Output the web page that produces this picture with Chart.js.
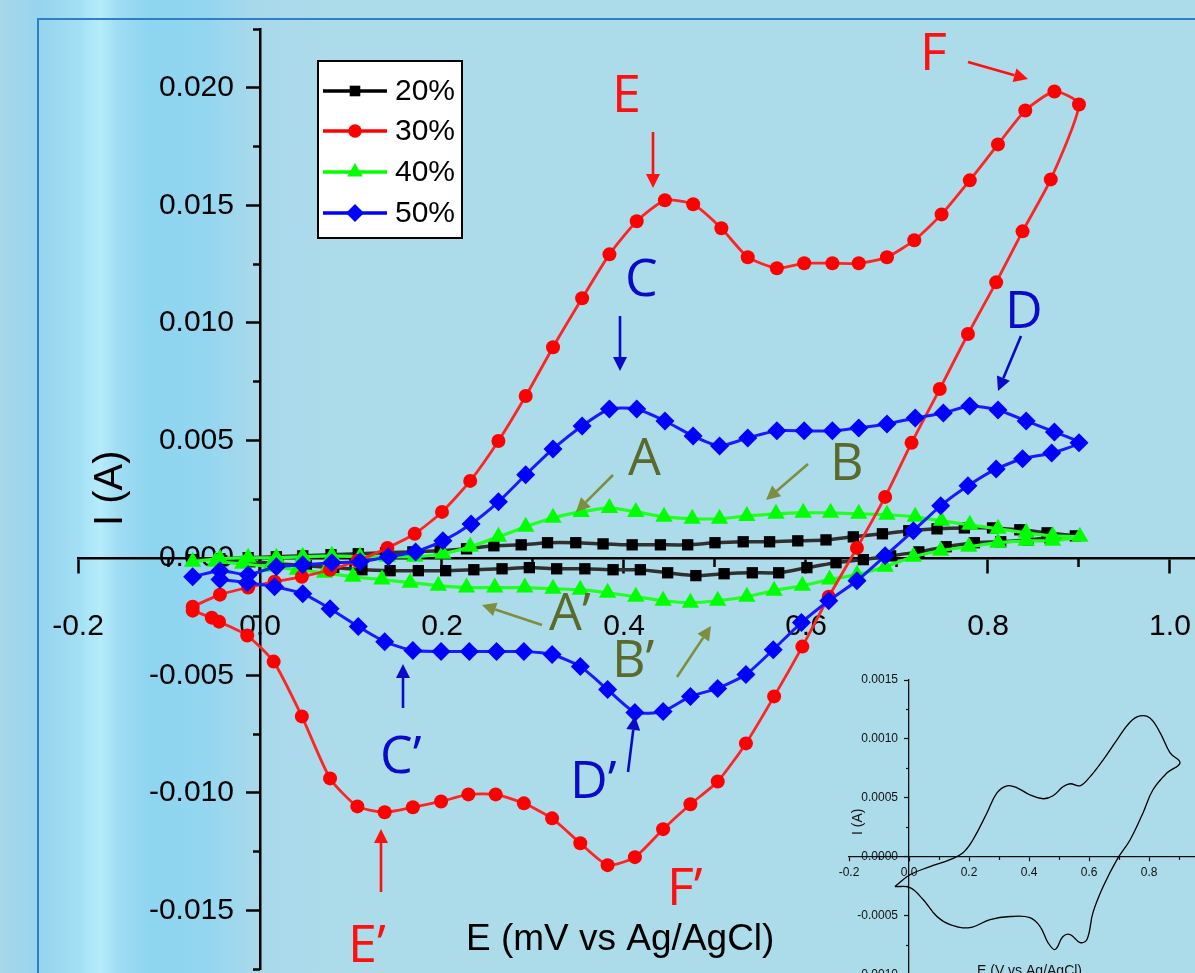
<!DOCTYPE html>
<html>
<head>
<meta charset="utf-8">
<title>Cyclic voltammograms</title>
<script src="https://cdn.jsdelivr.net/npm/chart.js@4.4.1/dist/chart.umd.min.js"></script>
<style>
  html, body { margin: 0; padding: 0; }
  body {
    width: 1195px; height: 973px; overflow: hidden; position: relative;
    background: linear-gradient(to right, #a7d7e9 0px, #97d4ee 40px, #a3e0f5 80px, #b6ecfb 100px,
      #a0ddf3 118px, #8ed5f1 150px, #93d6f0 205px, #a8d9eb 255px, #acdbea 330px, #acdbea 100%);
  }
  #frame { position: absolute; left: 37px; top: 18px; right: -10px; bottom: -10px;
    border-top: 2px solid #2e7fc6; border-left: 2px solid #2e7fc6; }
  canvas { position: absolute; }
  #main { left: 0; top: 0; }
  #inset { left: 830px; top: 660px; }
</style>
</head>
<body>
<div id="frame"></div>
<canvas id="main" width="1195" height="973"></canvas>
<canvas id="inset" width="365" height="351"></canvas>
<script>
// series names
var seriesNames = ['20%', '30%', '40%', '50%'];

// 20% : forward scan then reverse scan (E in V, I in A)
var E20 = [-0.074, -0.044, -0.013, 0.018, 0.047, 0.078, 0.108, 0.138, 0.168, 0.198, 0.227, 0.257, 0.287, 0.316, 0.347, 0.377, 0.409, 0.440, 0.470, 0.500, 0.531, 0.560, 0.591, 0.622, 0.652, 0.684, 0.713, 0.744, 0.774, 0.805, 0.835, 0.865, 0.896,
           0.868, 0.844, 0.814, 0.785, 0.754, 0.724, 0.693, 0.663, 0.633, 0.601, 0.570, 0.541, 0.510, 0.479, 0.448, 0.418, 0.388, 0.357, 0.326, 0.296, 0.266, 0.235, 0.204, 0.174, 0.143, 0.112, 0.081, 0.051, 0.020, -0.011, -0.042];
var I20 = [-0.00008, -0.00004, 0.00000, 0.00004, 0.00008, 0.00013, 0.00017, 0.00021, 0.00025, 0.00030, 0.00038, 0.00051, 0.00055, 0.00064, 0.00064, 0.00059, 0.00055, 0.00055, 0.00055, 0.00064, 0.00068, 0.00068, 0.00072, 0.00076, 0.00089, 0.00102, 0.00115, 0.00123, 0.00127, 0.00127, 0.00119, 0.00106, 0.00093,
           0.00085, 0.00076, 0.00068, 0.00064, 0.00047, 0.00025, 0.00008, -0.00008, -0.00021, -0.00042, -0.00064, -0.00064, -0.00068, -0.00076, -0.00064, -0.00051, -0.00051, -0.00047, -0.00047, -0.00042, -0.00047, -0.00051, -0.00055, -0.00055, -0.00055, -0.00051, -0.00042, -0.00034, -0.00025, -0.00017, -0.00013];

// 30%
var E30 = [-0.074, -0.044, -0.013, 0.016, 0.046, 0.077, 0.107, 0.140, 0.170, 0.200, 0.231, 0.262, 0.292, 0.322, 0.354, 0.384, 0.414, 0.445, 0.476, 0.507, 0.536, 0.568, 0.598, 0.629, 0.658, 0.689, 0.719, 0.749, 0.780, 0.811, 0.841, 0.873, 0.900,
           0.869, 0.838, 0.809, 0.778, 0.747, 0.716, 0.687, 0.656, 0.625, 0.596, 0.565, 0.534, 0.503, 0.473, 0.443, 0.412, 0.382, 0.352, 0.321, 0.290, 0.259, 0.229, 0.199, 0.168, 0.137, 0.107, 0.077, 0.046, 0.015, -0.014, -0.045, -0.053, -0.074];
var I30 = [-0.00208, -0.00157, -0.00127, -0.00102, -0.00081, -0.00051, -0.00013, 0.00042, 0.00102, 0.00195, 0.00327, 0.00497, 0.00688, 0.00896, 0.01104, 0.01291, 0.01432, 0.01521, 0.01504, 0.01402, 0.01279, 0.01232, 0.01253, 0.01253, 0.01253, 0.01279, 0.01351, 0.01461, 0.01606, 0.01759, 0.01903, 0.01984, 0.01929,
           0.01610, 0.01389, 0.01172, 0.00952, 0.00718, 0.00489, 0.00259, 0.00042, -0.00166, -0.00378, -0.00590, -0.00790, -0.00952, -0.01049, -0.01155, -0.01274, -0.01308, -0.01215, -0.01109, -0.01045, -0.01007, -0.01007, -0.01037, -0.01062, -0.01083, -0.01058, -0.00939, -0.00675, -0.00442, -0.00331, -0.00272, -0.00255, -0.00225];

// 40%
var E40 = [-0.074, -0.044, -0.013, 0.018, 0.047, 0.079, 0.110, 0.140, 0.170, 0.201, 0.231, 0.262, 0.292, 0.322, 0.353, 0.384, 0.413, 0.444, 0.475, 0.505, 0.535, 0.567, 0.597, 0.627, 0.658, 0.689, 0.720, 0.749, 0.780, 0.811, 0.842, 0.871, 0.901,
           0.871, 0.842, 0.811, 0.779, 0.748, 0.718, 0.687, 0.656, 0.626, 0.596, 0.565, 0.535, 0.503, 0.473, 0.443, 0.413, 0.382, 0.352, 0.322, 0.291, 0.258, 0.227, 0.196, 0.165, 0.134, 0.102, 0.071, 0.041, 0.011, -0.019, -0.049];
var I40 = [-0.00017, -0.00004, 0.00000, 0.00000, 0.00004, 0.00008, 0.00004, 0.00004, 0.00004, 0.00017, 0.00047, 0.00089, 0.00132, 0.00170, 0.00195, 0.00212, 0.00195, 0.00174, 0.00166, 0.00166, 0.00178, 0.00187, 0.00191, 0.00191, 0.00187, 0.00183, 0.00174, 0.00157, 0.00140, 0.00123, 0.00106, 0.00093, 0.00089,
           0.00072, 0.00072, 0.00064, 0.00047, 0.00030, 0.00004, -0.00038, -0.00072, -0.00093, -0.00119, -0.00140, -0.00166, -0.00183, -0.00191, -0.00183, -0.00166, -0.00149, -0.00136, -0.00132, -0.00127, -0.00127, -0.00127, -0.00119, -0.00106, -0.00093, -0.00081, -0.00064, -0.00051, -0.00038, -0.00026, -0.00017];

// 50%
var E50 = [-0.074, -0.044, -0.013, 0.018, 0.047, 0.079, 0.110, 0.141, 0.171, 0.201, 0.232, 0.262, 0.292, 0.322, 0.354, 0.384, 0.414, 0.445, 0.476, 0.505, 0.536, 0.568, 0.598, 0.629, 0.658, 0.689, 0.720, 0.751, 0.780, 0.811, 0.842, 0.873, 0.900,
           0.870, 0.838, 0.809, 0.778, 0.748, 0.718, 0.687, 0.656, 0.625, 0.595, 0.564, 0.534, 0.503, 0.473, 0.443, 0.412, 0.382, 0.352, 0.321, 0.290, 0.260, 0.230, 0.199, 0.168, 0.137, 0.108, 0.077, 0.047, 0.016, -0.014, -0.044];
var I50 = [-0.00081, -0.00055, -0.00072, -0.00038, -0.00030, -0.00021, -0.00017, 0.00004, 0.00025, 0.00072, 0.00144, 0.00238, 0.00353, 0.00463, 0.00561, 0.00633, 0.00633, 0.00582, 0.00518, 0.00476, 0.00510, 0.00540, 0.00540, 0.00540, 0.00552, 0.00569, 0.00595, 0.00616, 0.00646, 0.00629, 0.00582, 0.00535, 0.00489,
           0.00446, 0.00421, 0.00378, 0.00306, 0.00221, 0.00115, 0.00008, -0.00098, -0.00183, -0.00276, -0.00391, -0.00497, -0.00556, -0.00590, -0.00654, -0.00658, -0.00561, -0.00463, -0.00412, -0.00399, -0.00399, -0.00399, -0.00399, -0.00395, -0.00357, -0.00293, -0.00217, -0.00153, -0.00123, -0.00106, -0.00093];

// inset curve
var insetE = [-0.047, 0.003, 0.070, 0.137, 0.180, 0.213, 0.260, 0.293, 0.327, 0.360, 0.403, 0.447, 0.480, 0.513, 0.537, 0.570, 0.603, 0.647, 0.693, 0.737, 0.770, 0.803, 0.837, 0.870, 0.903,
              0.860, 0.813, 0.780, 0.737, 0.693, 0.647, 0.613, 0.593, 0.570, 0.537, 0.513, 0.487, 0.463, 0.437, 0.403, 0.337, 0.270, 0.203, 0.137, 0.093, 0.047, 0.003, -0.047];
var insetI = [-0.000254, -0.000153, -0.000085, -0.000025, 0.000034, 0.000144, 0.000373, 0.000542, 0.000602, 0.000585, 0.000525, 0.000492, 0.000517, 0.000593, 0.000619, 0.000602, 0.000678, 0.000822, 0.000992, 0.001144, 0.001195, 0.001178, 0.001051, 0.000881, 0.000797,
              0.000712, 0.000568, 0.000373, 0.000144, -0.000025, -0.000254, -0.000475, -0.000703, -0.000729, -0.000661, -0.000678, -0.000788, -0.000729, -0.000593, -0.000517, -0.000508, -0.000534, -0.000602, -0.000576, -0.000508, -0.000364, -0.000263, -0.000254];

// ticks
var xMajor = [-0.2, 0.0, 0.2, 0.4, 0.6, 0.8, 1.0];
var xMinor = [-0.1, 0.1, 0.3, 0.5, 0.7, 0.9];
var yMajor = [-0.015, -0.010, -0.005, 0.000, 0.005, 0.010, 0.015, 0.020];
var yMinor = [-0.0175, -0.0125, -0.0075, -0.0025, 0.0025, 0.0075, 0.0125, 0.0175, 0.0225];
var insetXMajor = [-0.2, 0.0, 0.2, 0.4, 0.6, 0.8];
var insetXMinor = [-0.1, 0.1, 0.3, 0.5, 0.7, 0.9];
var insetYMajor = [-0.0010, -0.0005, 0.0000, 0.0005, 0.0010, 0.0015];
var insetYMinor = [-0.00125, -0.00075, -0.00025, 0.00025, 0.00075, 0.00125];

var RED = '#ff1010', BLUE = '#0a0ac8', OLIVE = '#5a6a2c', OLIVE_ARROW = '#7f8e3e';

function pts(E, I) {
    return E.map(function (e, i) { return {x: e, y: I[i]}; });
}

function setTicks(list) {
    return function (scale) { scale.ticks = list.map(function (v) { return {value: v}; }); };
}

function arrow(ctx, x1, y1, x2, y2, color, w, head, half) {
    var a = Math.atan2(y2 - y1, x2 - x1);
    var bx = x2 - head * Math.cos(a), by = y2 - head * Math.sin(a);
    ctx.strokeStyle = color; ctx.fillStyle = color; ctx.lineWidth = w;
    ctx.beginPath(); ctx.moveTo(x1, y1); ctx.lineTo(bx, by); ctx.stroke();
    ctx.beginPath(); ctx.moveTo(x2, y2);
    ctx.lineTo(bx + half * Math.sin(a), by - half * Math.cos(a));
    ctx.lineTo(bx - half * Math.sin(a), by + half * Math.cos(a));
    ctx.closePath(); ctx.fill();
}

function marker(ctx, style, x, y, r, color) {
    ctx.fillStyle = color;
    ctx.beginPath();
    if (style === 'rect') {
        var s = r * Math.SQRT1_2;
        ctx.rect(x - s, y - s, 2 * s, 2 * s);
    } else if (style === 'circle') {
        ctx.arc(x, y, r, 0, Math.PI * 2);
    } else if (style === 'triangle') {
        ctx.moveTo(x, y - r); ctx.lineTo(x + r * 0.866, y + r / 2); ctx.lineTo(x - r * 0.866, y + r / 2); ctx.closePath();
    } else {
        ctx.moveTo(x, y - r); ctx.lineTo(x + r, y); ctx.lineTo(x, y + r); ctx.lineTo(x - r, y); ctx.closePath();
    }
    ctx.fill();
}

var looks = [
    {line: '#303030', point: '#000000', style: 'rect', r: 8, lr: 7.5, w: 3.5, order: 4},
    {line: '#ff2424', point: '#ff0000', style: 'circle', r: 7, lr: 6.7, w: 2.8, order: 2},
    {line: '#22ff22', point: '#00ff00', style: 'triangle', r: 10, lr: 9, w: 3.2, order: 3},
    {line: '#1a1aff', point: '#0000ff', style: 'rectRot', r: 9.5, lr: 9, w: 3, order: 1}
];
var seriesData = [pts(E20, I20), pts(E30, I30), pts(E40, I40), pts(E50, I50)];

var datasets = seriesData.map(function (d, i) {
    var l = looks[i];
    return {
        label: seriesNames[i], data: d, order: l.order,
        borderColor: l.line, borderWidth: l.w, tension: 0.2, fill: false,
        pointStyle: l.style, pointRadius: l.r, pointBackgroundColor: l.point,
        pointBorderColor: l.point, pointBorderWidth: 0
    };
});

// annotation letters (text origin, baseline) and arrows
var notes = [
    ['E', 612, 112, RED], ['F', 920, 70, RED], ['C', 625, 296, BLUE], ['D', 1005, 328, BLUE],
    ['A', 628, 475, OLIVE], ['B', 830, 480, OLIVE], ['A\u2019', 549, 630, OLIVE], ['B\u2019', 612, 677, OLIVE],
    ['C\u2019', 380, 773, BLUE], ['D\u2019', 570, 798, BLUE], ['E\u2019', 348, 962, RED], ['F\u2019', 667, 905, RED]
];
var arrows = [
    [653, 132, 653, 188, RED], [968, 62, 1028, 79, RED], [620, 316, 620, 371, BLUE], [1021, 336, 998, 391, BLUE],
    [613, 475, 576, 512, OLIVE_ARROW], [808, 464, 766, 500, OLIVE_ARROW], [542, 625, 482, 605, OLIVE_ARROW],
    [677, 677, 711, 626, OLIVE_ARROW], [403, 708, 403, 664, BLUE], [628, 772, 635, 716, BLUE], [381, 892, 381, 829, RED]
];

var decor = {
    id: 'decor',
    afterDraw: function (chart) {
        var ctx = chart.ctx;
        ctx.save();
        // axis titles
        ctx.fillStyle = '#000';
        ctx.font = '37px "Liberation Sans", Arial, sans-serif';
        ctx.textAlign = 'left'; ctx.textBaseline = 'alphabetic';
        ctx.fillText('E (mV vs Ag/AgCl)', 466, 950);
        ctx.save();
        ctx.translate(122, 526); ctx.rotate(-Math.PI / 2);
        ctx.font = '40px "Liberation Sans", Arial, sans-serif';
        ctx.fillText('I (A)', 0, 0);
        ctx.restore();

        // letters and arrows
        arrows.forEach(function (a) { arrow(ctx, a[0], a[1], a[2], a[3], a[4], 2.6, 14, 7); });
        ctx.font = '52px "Open Sans", "Noto Sans", sans-serif';
        notes.forEach(function (n) { ctx.fillStyle = n[3]; ctx.fillText(n[0], n[1], n[2]); });

        // legend
        ctx.fillStyle = '#fff';
        ctx.fillRect(318, 61, 144, 177);
        ctx.strokeStyle = '#000'; ctx.lineWidth = 2;
        ctx.strokeRect(318, 61, 144, 177);
        var rows = [91, 131, 172, 213];
        ctx.font = '30px "Liberation Sans", Arial, sans-serif';
        ctx.textBaseline = 'middle';
        rows.forEach(function (y, i) {
            var l = looks[i];
            ctx.strokeStyle = i === 0 ? '#000' : l.point; ctx.lineWidth = 3.5;
            ctx.beginPath(); ctx.moveTo(323, y); ctx.lineTo(387, y); ctx.stroke();
            marker(ctx, l.style, 355, y, l.lr, l.point);
            ctx.fillStyle = '#000';
            ctx.fillText(seriesNames[i], 395, y + 1);
        });
        ctx.restore();
    }
};

var tickFont = {family: 'Liberation Sans', size: 30};
// thin line height so the label axis does not shrink the plot area
var yTickFont = {family: 'Liberation Sans', size: 30, lineHeight: 0.2};
var X_MIN = -0.2, X_MAX = 1.0275, Y_MIN = -0.0175, Y_MAX = 0.0225;

function tickAxis(axis, min, max, at, list, len, w, color) {
    var pos = axis === 'x' ? {y: at} : {x: at};
    return {
        axis: axis, type: 'linear', min: min, max: max, position: pos,
        afterBuildTicks: setTicks(list),
        ticks: {display: false},
        grid: {display: true, drawOnChartArea: false, drawTicks: true, tickLength: len, tickWidth: w, tickColor: color},
        border: {display: false}
    };
}

function labelAxis(axis, min, max, at, list, font, color, digits) {
    var pos = axis === 'x' ? {y: at} : {x: at};
    return {
        axis: axis, type: 'linear', min: min, max: max, position: pos,
        afterBuildTicks: setTicks(list),
        ticks: {font: font, color: color, padding: 0, autoSkip: false, maxRotation: 0, minRotation: 0,
                callback: function (v) { return v.toFixed(digits); }},
        grid: {display: false, drawTicks: false},
        border: {display: false}
    };
}

var mainX = tickAxis('x', X_MIN, X_MAX, 0, xMajor, 14, 2.5, '#000');
mainX.border = {display: true, color: '#000', width: 2.5};
var mainY = tickAxis('y', Y_MIN, Y_MAX, 0, yMajor, 13, 2.5, '#000');
mainY.border = {display: true, color: '#000', width: 2.5};

new Chart(document.getElementById('main'), {
    type: 'line',
    data: {datasets: datasets},
    options: {
        responsive: false, animation: false, devicePixelRatio: 1, events: [],
        layout: {autoPadding: false, padding: {left: 78, right: 0, top: 29, bottom: 4}},
        plugins: {legend: {display: false}, tooltip: {enabled: false}},
        scales: {
            x: mainX,
            xMinor: tickAxis('x', X_MIN, X_MAX, 0, xMinor, 9, 2.5, '#000'),
            xLab: labelAxis('x', X_MIN, X_MAX, -0.00218, xMajor, tickFont, '#000', 1),
            y: mainY,
            yMinor: tickAxis('y', Y_MIN, Y_MAX, 0, yMinor, 7, 2.5, '#000'),
            yLab: labelAxis('y', Y_MIN, Y_MAX, -0.0286, yMajor, yTickFont, '#000', 3)
        }
    },
    plugins: [decor]
});

// inset
var insetFont = {family: 'Liberation Sans', size: 12};
var insetYFont = {family: 'Liberation Sans', size: 12, lineHeight: 0.2};
var IX_MIN = -0.2, IX_MAX = 0.953, IY_MIN = -0.0013, IY_MAX = 0.0015;

var insetTitles = {
    id: 'insetTitles',
    afterDraw: function (chart) {
        var ctx = chart.ctx;
        ctx.save();
        ctx.fillStyle = '#111';
        ctx.font = '14px "Liberation Sans", Arial, sans-serif';
        ctx.textAlign = 'left'; ctx.textBaseline = 'alphabetic';
        ctx.fillText('E (V vs Ag/AgCl)', 147, 315);
        ctx.translate(32, 175); ctx.rotate(-Math.PI / 2);
        ctx.fillText('I (A)', 0, 0);
        ctx.restore();
    }
};

var insetX = tickAxis('x', IX_MIN, IX_MAX, 0, insetXMajor, 4, 1.2, '#111');
insetX.border = {display: true, color: '#111', width: 1.3};
var insetY = tickAxis('y', IY_MIN, IY_MAX, 0, insetYMajor, 4, 1.2, '#111');
insetY.border = {display: true, color: '#111', width: 1.3};

new Chart(document.getElementById('inset'), {
    type: 'line',
    data: {datasets: [{
        label: 'inset', data: pts(insetE, insetI), borderColor: '#000', borderWidth: 1.3,
        pointRadius: 0, tension: 0.4, fill: false
    }]},
    options: {
        responsive: false, animation: false, devicePixelRatio: 1, events: [],
        layout: {autoPadding: false, padding: {left: 19, right: 0, top: 20, bottom: 0}},
        plugins: {legend: {display: false}, tooltip: {enabled: false}},
        scales: {
            x: insetX,
            xMinor: tickAxis('x', IX_MIN, IX_MAX, 0, insetXMinor, 3, 1.2, '#111'),
            xLab: labelAxis('x', IX_MIN, IX_MAX, -0.000076, insetXMajor, insetFont, '#111', 1),
            y: insetY,
            yMinor: tickAxis('y', IY_MIN, IY_MAX, 0, insetYMinor, 3, 1.2, '#111'),
            yLab: labelAxis('y', IY_MIN, IY_MAX, -0.0367, insetYMajor, insetYFont, '#111', 4)
        }
    },
    plugins: [insetTitles]
});
</script>
</body>
</html>
